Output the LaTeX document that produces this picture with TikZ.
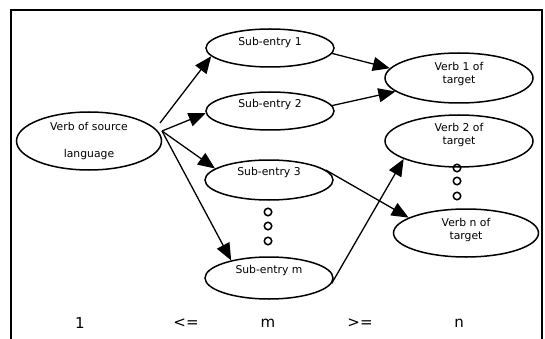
\documentclass[tikz,border=0pt]{standalone}
\usepackage{fontspec}
\setmainfont{DejaVu Sans}
\usetikzlibrary{shapes.geometric,arrows.meta}
\begin{document}
\begin{tikzpicture}[x=1pt,y=-1pt,
  ell/.style={draw,ellipse,line width=1.5pt,inner sep=0pt},
  lbl/.style={font=\fontsize{10.8}{12.5}\selectfont,align=center,inner sep=0pt},
  big/.style={font=\fontsize{15}{17}\selectfont,inner sep=0pt},
  dot/.style={draw,circle,line width=1.5pt,minimum size=7.5pt,inner sep=0pt},
  arr/.style={line width=1.3pt,-{Triangle[length=17pt,width=14pt]}}]
\useasboundingbox (0,0) rectangle (545,339);
\draw[line width=2pt] (11,339) -- (11,10) -- (542,10) -- (542,339);
% source
\node[ell,minimum width=145pt,minimum height=58pt] (src) at (89,141) {};
\node[lbl] (srcA) at (89,126) {Verb of source};
\node[lbl] (srcB) at (89,155) {language};
% sub-entries
\node[ell,minimum width=128pt,minimum height=38pt] (sub1) at (270,48) {};
\node[lbl] (sub1t) at (270,43) {Sub-entry 1};
\node[ell,minimum width=128pt,minimum height=38pt] (sub2) at (270,111) {};
\node[lbl] (sub2t) at (270,105) {Sub-entry 2};
\node[ell,minimum width=128pt,minimum height=40pt] (sub3) at (269,180) {};
\node[lbl] (sub3t) at (269,173) {Sub-entry 3};
\node[ell,minimum width=128pt,minimum height=42pt] (subm) at (269,278) {};
\node[lbl] (submt) at (269,271) {Sub-entry m};
\node[dot] (md1) at (268,212) {};
\node[dot] (md2) at (268,226) {};
\node[dot] (md3) at (268,241) {};
% targets
\node[ell,minimum width=148pt,minimum height=50pt] (verb1) at (459,78) {};
\node[lbl] (verb1t) at (459,74) {Verb 1 of\\target};
\node[ell,minimum width=148pt,minimum height=52pt] (verb2) at (459,141) {};
\node[lbl] (verb2t) at (459,135) {Verb 2 of\\target};
\node[dot] (vd1) at (457,168) {};
\node[dot] (vd2) at (457,181) {};
\node[dot] (vd3) at (457,196) {};
\node[ell,minimum width=145pt,minimum height=48pt] (verbn) at (466,233) {};
\node[lbl] (verbnt) at (466,230) {Verb n of\\target};
% arrows
\coordinate (o1) at (160,123);
\coordinate (o) at (162,131);
\draw[arr] (o1) -- (sub1.188);
\draw[arr] (o) -- (sub2.182);
\draw[arr] (o) -- (sub3.168);
\draw[arr] (o) -- (subm.155);
\draw[arr] (sub1.-5) -- (verb1.172);
\draw[arr] (sub2.5) -- (verb1.192);
\draw[arr] (sub3.10) -- (verbn.165);
\draw[arr] (subm.-5) -- (verb2.198);
% bottom labels
\node[big] (b1) at (80,323) {1};
\node[big] (b2) at (186,323) {<=};
\node[big] (b3) at (268,323) {m};
\node[big] (b4) at (360,323) {>=};
\node[big] (b5) at (459,323) {n};
\end{tikzpicture}
\end{document}
